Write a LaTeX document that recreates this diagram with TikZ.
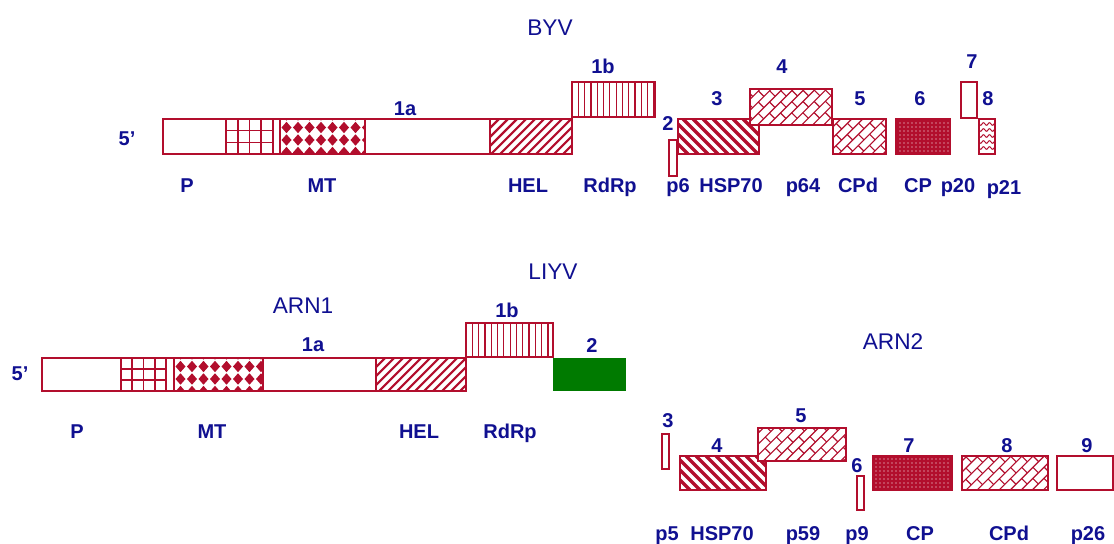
\documentclass[tikz,border=0pt]{standalone}
\usepackage{fontspec}
\setmainfont{Liberation Sans}
\usetikzlibrary{patterns}
\definecolor{gred}{RGB}{178,14,45}
\definecolor{gblue}{RGB}{16,16,145}
\definecolor{ggreen}{RGB}{0,122,0}
\newcommand\labfont{\fontsize{15}{15}\selectfont\bfseries}
\newcommand\ttlfont{\fontsize{17}{17}\selectfont}
\tikzset{
  ol/.style={draw=gred, line width=1.2pt},
  lab/.style={text=gblue, font=\labfont, anchor=base, inner sep=0pt},
  ttl/.style={text=gblue, font=\ttlfont, anchor=base, inner sep=0pt},
  pat/.style={gred, line width=#1},
}
% grid pattern 4x3
\newcommand\pgrid[4]{%
  \begin{scope}
    \clip (#1,#2) rectangle (#3,#4);
    \foreach \i in {1,2,3}{\draw[pat=1.2pt] ({#1+(#3-#1)*\i/4},#2) -- ({#1+(#3-#1)*\i/4},#4);}
    \foreach \i in {1,2}{\draw[pat=1.2pt] (#1,{#2+(#4-#2)*\i/3}) -- (#3,{#2+(#4-#2)*\i/3});}
  \end{scope}}
% diamond pattern
\newcommand\pdiam[4]{%
  \begin{scope}
    \clip (#1,#2) rectangle (#3,#4);
    \foreach \j in {-1,0,1,2}{
      \foreach \i in {-1,0,...,8}{
        \pgfmathsetmacro\cx{#1+6.5+11.5*\i}
        \pgfmathsetmacro\cy{#2+8.5+12.5*\j}
        \fill[gred] (\cx-5.0,\cy) -- (\cx,\cy-5.7) -- (\cx+5.0,\cy) -- (\cx,\cy+5.7) -- cycle;
      }}
  \end{scope}}
% "/" hatch: x1 y1 x2 y2 spacing width
\newcommand\pne[6]{%
  \begin{scope}
    \clip (#1,#2) rectangle (#3,#4);
    \pgfmathsetmacro\hh{#4-#2}
    \pgfmathtruncatemacro\nn{(#3-#1+\hh)/#5+1}
    \foreach \k in {0,...,\nn}{\draw[pat=#6] ({#1-\hh+\k*#5},#4) -- ++(\hh,-\hh);}
  \end{scope}}
% "\" hatch
\newcommand\pnw[6]{%
  \begin{scope}
    \clip (#1,#2) rectangle (#3,#4);
    \pgfmathsetmacro\hh{#4-#2}
    \pgfmathtruncatemacro\nn{(#3-#1+\hh)/#5+1}
    \foreach \k in {0,...,\nn}{\draw[pat=#6] ({#1-\hh+\k*#5},#2) -- ++(\hh,\hh);}
  \end{scope}}
% vertical lines
\newcommand\pvert[5]{%
  \begin{scope}
    \clip (#1,#2) rectangle (#3,#4);
    \pgfmathtruncatemacro\nn{(#3-#1)/#5}
    \foreach \k in {1,...,\nn}{\draw[pat=0.9pt] ({#1+\k*#5},#2) -- ({#1+\k*#5},#4);}
  \end{scope}}
% diagonal brick
\newcommand\pbrick[4]{%
  \begin{scope}
    \clip (#1,#2) rectangle (#3,#4);
    \pgfmathtruncatemacro\kmin{floor((#1+#2)/(1.41421*7.8))-1}
    \pgfmathtruncatemacro\kmax{ceil((#3+#4)/(1.41421*7.8))+1}
    \pgfmathsetmacro\wmin{(#1-#4)/1.41421-3}
    \pgfmathsetmacro\wmax{(#3-#2)/1.41421+3}
    \pgfmathtruncatemacro\mmin{floor(\wmin/16)-1}
    \pgfmathtruncatemacro\mmax{ceil(\wmax/16)+1}
    \foreach \k in {\kmin,...,\kmax}{
      \pgfmathsetmacro\uu{\k*7.8}
      \draw[pat=0.85pt] ({(\uu+\wmin)*0.70711},{(\uu-\wmin)*0.70711}) -- ({(\uu+\wmax)*0.70711},{(\uu-\wmax)*0.70711});
      \foreach \m in {\mmin,...,\mmax}{
        \pgfmathsetmacro\ww{\m*16+8*mod(\k,2)}
        \draw[pat=0.85pt] ({(\uu+\ww)*0.70711},{(\uu-\ww)*0.70711}) -- ({(\uu+7.8+\ww)*0.70711},{(\uu+7.8-\ww)*0.70711});
      }}
  \end{scope}}
% dots
\newcommand\pdots[4]{%
  \fill[gred] (#1,#2) rectangle (#3,#4);
  \fill[pattern=dots, pattern color=white] (#1,#2) rectangle (#3,#4);}
% wavy
\newcommand\pwave[4]{%
  \begin{scope}
    \clip (#1,#2) rectangle (#3,#4);
    \foreach \yy in {5,11,17,23,29}{
      \draw[pat=0.7pt] plot[domain=0:{#3-#1},samples=25,smooth] ({#1+\x},{#2+\yy+1.3*sin(\x*60)});}
  \end{scope}}
\begin{document}
\begin{tikzpicture}[x=0.75pt,y=-0.75pt]
\useasboundingbox[fill=white] (0,0) rectangle (1114,543);

% ================= BYV =================
\pgrid{226}{119}{273}{154}
\pdiam{280}{119}{365}{154}
\pne{490}{119}{572}{154}{9}{1.6pt}
\draw[ol] (163,119) rectangle (572,154);
\foreach \xx in {226,273,280,365,490}{\draw[ol] (\xx,119) -- (\xx,154);}
% 1b
\pvert{572}{82}{655}{117}{6.3}
\draw[ol] (572,82) rectangle (655,117);
% 2
\draw[ol] (669,140) rectangle (677,176);
% 3 HSP70
\pnw{678}{119}{759}{154}{10}{2.6pt}
\draw[ol] (678,119) rectangle (759,154);
% 4 p64
\fill[white] (750,89) rectangle (832,125);
\pbrick{750}{89}{832}{125}
\draw[ol] (750,89) rectangle (832,125);
% 5 CPd
\pbrick{833}{119}{886}{154}
\draw[ol] (833,119) rectangle (886,154);
% 6 CP
\pdots{896}{119}{950}{154}
\draw[ol] (896,119) rectangle (950,154);
% 7
\draw[ol] (961,82) rectangle (977,118);
% 8
\pwave{979}{119}{995}{154}
\draw[ol] (979,119) rectangle (995,154);

\node[ttl] (tbyv) at (550,35) {BYV};
\node[lab] (b5) at (127,145) {5’};
\node[lab] (b1a) at (405,115) {1a};
\node[lab] (b1b) at (603,73) {1b};
\node[lab] (b2) at (668,130) {2};
\node[lab] (b3) at (717,105) {3};
\node[lab] (b4) at (782,73) {4};
\node[lab] (bn5) at (860,105) {5};
\node[lab] (b6) at (920,105) {6};
\node[lab] (b7) at (972,68) {7};
\node[lab] (b8) at (988,105) {8};
\node[lab] (bP) at (187,192) {P};
\node[lab] (bMT) at (322,192) {MT};
\node[lab] (bHEL) at (528,192) {HEL};
\node[lab] (bRdRp) at (610,192) {RdRp};
\node[lab] (bp6) at (678,192) {p6};
\node[lab] (bHSP) at (731,192) {HSP70};
\node[lab] (bp64) at (803,192) {p64};
\node[lab] (bCPd) at (858,192) {CPd};
\node[lab] (bCP) at (918,192) {CP};
\node[lab] (bp20) at (958,192) {p20};
\node[lab] (bp21) at (1004,194) {p21};

% ================= LIYV ARN1 =================
\pgrid{121}{358}{166}{391}
\pdiam{174}{358}{263}{391}
\pne{376}{358}{466}{391}{9}{1.6pt}
\draw[ol] (42,358) rectangle (466,391);
\foreach \xx in {121,166,174,263,376}{\draw[ol] (\xx,358) -- (\xx,391);}
\pvert{466}{323}{553}{357}{6.3}
\draw[ol] (466,323) rectangle (553,357);
\fill[ggreen] (553,358) rectangle (626,391);

\node[ttl] (tliyv) at (553,279) {LIYV};
\node[ttl] (tarn1) at (303,313) {ARN1};
\node[lab] (l5) at (20,380) {5’};
\node[lab] (l1a) at (313,351) {1a};
\node[lab] (l1b) at (507,317) {1b};
\node[lab] (l2) at (592,352) {2};
\node[lab] (lP) at (77,438) {P};
\node[lab] (lMT) at (212,438) {MT};
\node[lab] (lHEL) at (419,438) {HEL};
\node[lab] (lRdRp) at (510,438) {RdRp};

% ================= ARN2 =================
\draw[ol] (662,434) rectangle (669,469);
\pnw{680}{456}{766}{490}{10}{2.6pt}
\draw[ol] (680,456) rectangle (766,490);
\fill[white] (758,428) rectangle (846,461);
\pbrick{758}{428}{846}{461}
\draw[ol] (758,428) rectangle (846,461);
\draw[ol] (857,476) rectangle (864,510);
\pdots{873}{456}{952}{490}
\draw[ol] (873,456) rectangle (952,490);
\pbrick{962}{456}{1048}{490}
\draw[ol] (962,456) rectangle (1048,490);
\draw[ol] (1057,456) rectangle (1113,490);

\node[ttl] (tarn2) at (893,349) {ARN2};
\node[lab] (a3) at (668,427) {3};
\node[lab] (a5) at (801,422) {5};
\node[lab] (a4) at (717,452) {4};
\node[lab] (a7) at (909,452) {7};
\node[lab] (a8) at (1007,452) {8};
\node[lab] (a9) at (1087,452) {9};
\node[lab] (a6) at (857,472) {6};
\node[lab] (ap5) at (667,540) {p5};
\node[lab] (aHSP) at (722,540) {HSP70};
\node[lab] (ap59) at (803,540) {p59};
\node[lab] (ap9) at (857,540) {p9};
\node[lab] (aCP) at (920,540) {CP};
\node[lab] (aCPd) at (1009,540) {CPd};
\node[lab] (ap26) at (1088,540) {p26};
\end{tikzpicture}
\end{document}
